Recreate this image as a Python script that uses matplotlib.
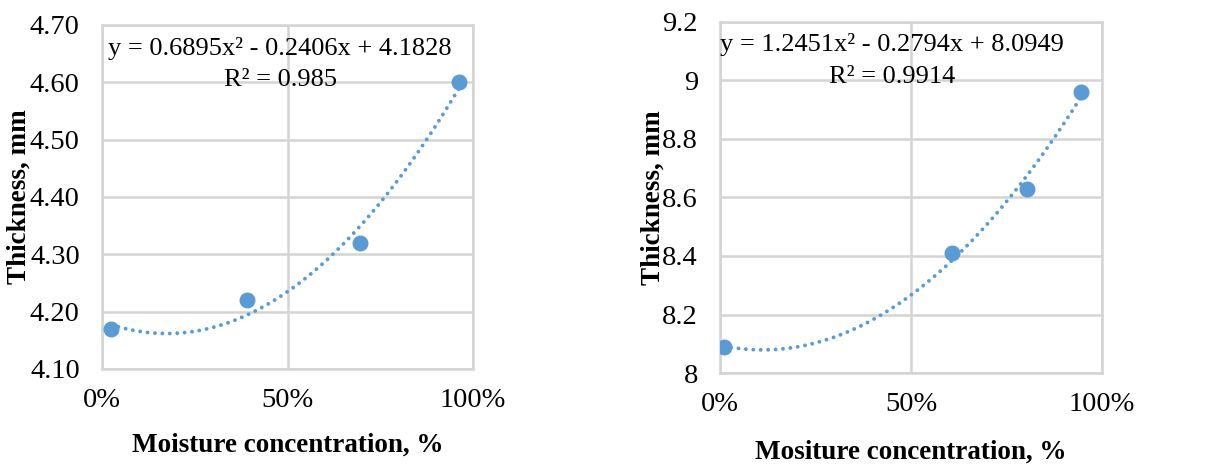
import numpy as np
import matplotlib
matplotlib.use("Agg")
import matplotlib.pyplot as plt
from matplotlib.ticker import PercentFormatter, FixedLocator

plt.rcParams['font.family'] = ['Liberation Serif', 'DejaVu Serif']

# left panel
moist_a = [0.025, 0.39, 0.695, 0.962]
thick_a = [4.17, 4.22, 4.32, 4.60]
coef_a = [0.6895, -0.2406, 4.1828]
eq_a = "y = 0.6895x² - 0.2406x + 4.1828"
r2_a = "R² = 0.985"
yticks_a = [4.10, 4.20, 4.30, 4.40, 4.50, 4.60, 4.70]
ylabels_a = ["4.10", "4.20", "4.30", "4.40", "4.50", "4.60", "4.70"]

# right panel
moist_b = [0.01, 0.608, 0.804, 0.945]
thick_b = [8.09, 8.41, 8.63, 8.96]
coef_b = [1.2451, -0.2794, 8.0949]
eq_b = "y = 1.2451x² - 0.2794x + 8.0949"
r2_b = "R² = 0.9914"
yticks_b = [8.0, 8.2, 8.4, 8.6, 8.8, 9.0, 9.2]
ylabels_b = ["8", "8.2", "8.4", "8.6", "8.8", "9", "9.2"]

xticks = [0, 0.5, 1.0]
blue = '#5B9BD5'
grid = '#d4d4d4'

fig = plt.figure(figsize=(12.23, 4.65), dpi=100)
ax1 = fig.add_axes([0.0834, 0.2065, 0.3034, 0.740])
ax2 = fig.add_axes([0.5887, 0.1978, 0.3123, 0.755])


def draw(ax, xs, ys, coef, eq, r2, yt, yl, xlabel, ylab_x, xlab_y, eq_pos, r2_pos):
    xf = np.linspace(xs[0], xs[-1], 300)
    ax.plot(xf, np.polyval(coef, xf), color=blue, lw=2.8,
            linestyle=(0, (0.01, 1.9)), dash_capstyle='round', zorder=2)
    ax.plot(xs, ys, 'o', color=blue, ms=10.5, zorder=3)
    ax.set_xlim(0, 1)
    ax.set_ylim(yt[0], yt[-1])
    ax.xaxis.set_major_locator(FixedLocator(xticks))
    ax.xaxis.set_major_formatter(PercentFormatter(1.0, decimals=0))
    ax.set_yticks(yt)
    ax.set_yticklabels(yl)
    ax.tick_params(length=0, labelsize=20.5)
    ax.tick_params(axis='x', pad=14)
    ax.tick_params(axis='y', pad=16)
    ax.grid(True, color=grid, lw=1.8)
    ax.set_axisbelow(True)
    for s in ax.spines.values():
        s.set_color(grid)
        s.set_linewidth(1.8)
    ax.set_xlabel(xlabel, fontsize=19.5, fontweight='bold')
    ax.set_ylabel("Thickness, mm", fontsize=19.5, fontweight='bold')
    ax.xaxis.set_label_coords(0.5, xlab_y)
    ax.xaxis.label.set_va('center')
    ax.yaxis.set_label_coords(ylab_x, 0.5)
    ax.yaxis.label.set_va('center')
    ax.text(eq_pos[0], eq_pos[1], eq, transform=ax.transAxes, ha='center',
            va='center', fontsize=19)
    ax.text(r2_pos[0], r2_pos[1], r2, transform=ax.transAxes, ha='center',
            va='center', fontsize=19)


draw(ax1, moist_a, thick_a, coef_a, eq_a, r2_a, yticks_a, ylabels_a,
     "Moisture concentration, %", -0.222, -0.221, (0.48, 0.932), (0.48, 0.84))
draw(ax2, moist_b, thick_b, coef_b, eq_b, r2_b, yticks_b, ylabels_b,
     "Mositure concentration, %", -0.176, -0.225, (0.449, 0.937), (0.45, 0.843))

fig.savefig("out.png", dpi=100)
